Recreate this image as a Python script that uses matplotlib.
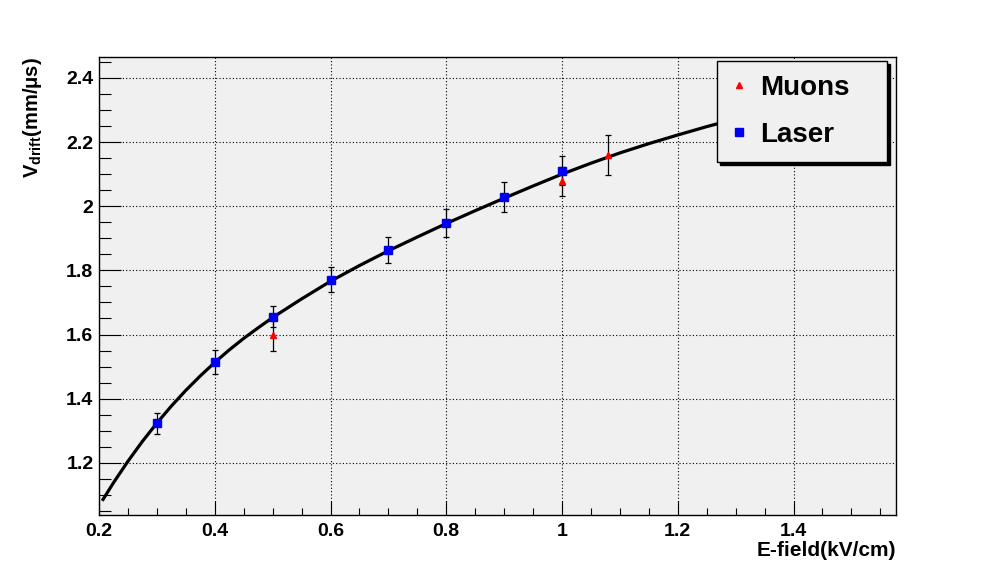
import numpy as np
import matplotlib
matplotlib.use("Agg")
import matplotlib.pyplot as plt
from matplotlib.ticker import MultipleLocator, FormatStrFormatter

plt.rcParams["font.family"] = ["Liberation Sans", "DejaVu Sans"]
plt.rcParams["mathtext.fontset"] = "custom"
plt.rcParams["mathtext.bf"] = "Liberation Sans:bold"
plt.rcParams["mathtext.rm"] = "Liberation Sans:bold"

# laser points
laser_x = [0.3, 0.4, 0.5, 0.6, 0.7, 0.8, 0.9, 1.0]
laser_y = [1.323, 1.515, 1.655, 1.771, 1.863, 1.948, 2.029, 2.110]
laser_err = [0.033, 0.038, 0.033, 0.038, 0.040, 0.044, 0.046, 0.045]

# muon points
muon_x = [0.5, 1.0, 1.08]
muon_y = [1.597, 2.077, 2.160]
muon_err = [0.047, 0.046, 0.062]

# fitted curve
fit_x = [0.207, 0.225, 0.25, 0.275, 0.3, 0.325, 0.35, 0.375, 0.4, 0.425, 0.45,
         0.475, 0.5, 0.55, 0.6, 0.65, 0.7, 0.75, 0.8, 0.85, 0.9, 0.95, 1.0,
         1.05, 1.1, 1.15, 1.2, 1.25, 1.3, 1.35, 1.4, 1.45, 1.5]
fit_y = [1.086, 1.138, 1.205, 1.267, 1.324, 1.377, 1.426, 1.471, 1.513, 1.552,
         1.588, 1.621, 1.653, 1.711, 1.766, 1.815, 1.861, 1.904, 1.946, 1.986,
         2.025, 2.063, 2.100, 2.134, 2.166, 2.195, 2.222, 2.248, 2.272, 2.295,
         2.317, 2.338, 2.358]

x_ticks = [0.2, 0.4, 0.6, 0.8, 1.0, 1.2, 1.4]
y_ticks = [1.2, 1.4, 1.6, 1.8, 2.0, 2.2, 2.4]

fig = plt.figure(figsize=(9.96, 5.72), dpi=100)
ax = fig.add_axes([99 / 996, 57 / 572, 797 / 996, 458 / 572])
ax.set_facecolor("#f0f0f0")

ax.plot(fit_x, fit_y, color="black", lw=2.3, zorder=3)
ax.errorbar(laser_x, laser_y, yerr=laser_err, fmt="none", ecolor="black",
            elinewidth=0.9, capsize=2.5, capthick=0.9, zorder=4)
ax.errorbar(muon_x, muon_y, yerr=muon_err, fmt="none", ecolor="black",
            elinewidth=0.9, capsize=2.5, capthick=0.9, zorder=4)
ax.plot(muon_x, muon_y, ls="none", marker="^", ms=4.5, color="#ff0000",
        label="Muons", zorder=5)
ax.plot(laser_x, laser_y, ls="none", marker="s", ms=6, color="#0000ee",
        label="Laser", zorder=6)

ax.set_xlim(0.2, 1.577)
ax.set_ylim(1.0375, 2.465)
ax.set_xticks(x_ticks)
ax.set_yticks(y_ticks)
ax.xaxis.set_minor_locator(MultipleLocator(0.05))
ax.yaxis.set_minor_locator(MultipleLocator(0.05))
ax.xaxis.set_major_formatter(FormatStrFormatter("%g"))
ax.yaxis.set_major_formatter(FormatStrFormatter("%g"))
ax.grid(True, which="major", color="black", ls=(0, (1, 2)), lw=0.8)
ax.set_axisbelow(True)

ax.tick_params(axis="both", which="both", direction="in", top=False, right=False,
               width=0.8, labelsize=14)
ax.tick_params(axis="x", which="major", length=10, pad=6)
ax.tick_params(axis="x", which="minor", length=5)
ax.tick_params(axis="y", which="major", length=16, pad=4)
ax.tick_params(axis="y", which="minor", length=8.5)
for lab in ax.get_xticklabels() + ax.get_yticklabels():
    lab.set_fontweight("bold")
for sp in ax.spines.values():
    sp.set_linewidth(1.0)

ax.text(1.0, -0.057, "E-field(kV/cm)", transform=ax.transAxes, ha="right",
        va="top", fontsize=15, fontweight="bold")
ax.text(-0.083, 1.0, r"$\mathbf{V_{drift}}$(mm/μs)", transform=ax.transAxes,
        rotation=90, ha="center", va="top", fontsize=14.5, fontweight="bold")

leg = ax.legend(loc="upper left", bbox_to_anchor=(0.7754, 0.5, 0.2133, 0.491),
                mode="expand", borderaxespad=0,
                prop={"size": 20, "weight": "bold"}, fancybox=False,
                shadow={"color": "black", "alpha": 1}, framealpha=1,
                facecolor="#f0f0f0", edgecolor="black", handlelength=0.6,
                handletextpad=0.47, labelspacing=0.75, borderpad=0.5,
                numpoints=1)
leg.get_frame().set_linewidth(1.0)

fig.savefig("out.png", dpi=100)
